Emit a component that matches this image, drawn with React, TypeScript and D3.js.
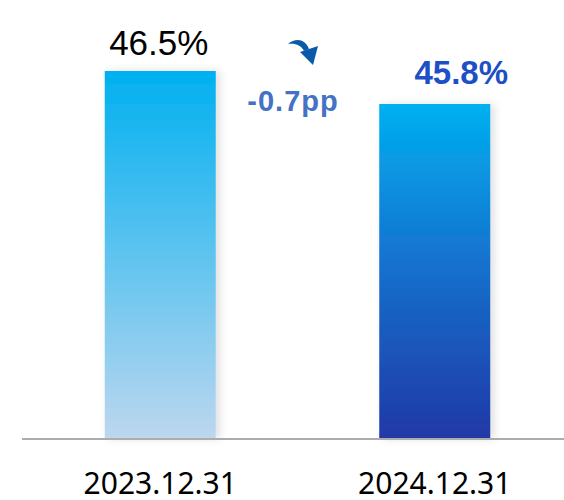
import React from "react";
import * as d3 from "d3";

const categories = ["2023.12.31", "2024.12.31"];
const values = [46.5, 45.8];
const valueLabels = ["46.5%", "45.8%"];
const changeLabel = "-0.7pp";

const W = 564;
const H = 500;
const baseY = 439;

export default function App() {
  const x = d3.scalePoint<string>().domain(categories).range([23, 572]).padding(0.5);
  const y = d3.scaleLinear().domain([38.69, 46.5]).range([baseY, 71]);
  const barW = 111;

  const x0 = x(categories[0])!;
  const x1 = x(categories[1])!;

  return (
    <svg width={W} height={H} style={{ position: "absolute", left: 0, top: 0 }}>
      <defs>
        <linearGradient id="g1" x1="0" y1="0" x2="0" y2="1">
          <stop offset="0%" stopColor="#00b0f0" />
          <stop offset="100%" stopColor="#bdd7ee" />
        </linearGradient>
        <linearGradient id="g2" x1="0" y1="0" x2="0" y2="1">
          <stop offset="0%" stopColor="#00b0f0" />
          <stop offset="45%" stopColor="#1474d0" />
          <stop offset="100%" stopColor="#2138a6" />
        </linearGradient>
        <filter id="sh" x="-20%" y="-20%" width="150%" height="140%">
          <feDropShadow dx="4" dy="0" stdDeviation="4" floodColor="#000" floodOpacity="0.12" />
        </filter>
      </defs>
      {values.map((v, i) => (
        <rect
          key={i}
          x={x(categories[i])! - barW / 2}
          y={y(v)}
          width={barW}
          height={baseY - y(v)}
          fill={i === 0 ? "url(#g1)" : "url(#g2)"}
          filter="url(#sh)"
        />
      ))}
      <line x1={22} x2={564} y1={baseY} y2={baseY} stroke="#acacac" strokeWidth={2} />
      {categories.map((c) => (
        <text
          key={c}
          x={x(c)!}
          y={494}
          textAnchor="middle"
          fontFamily="'Noto Sans', sans-serif"
          fontSize={30}
          fill="#000"
        >
          {c}
        </text>
      ))}
      <text
        x={x0 - 1.5}
        y={y(values[0]) - 16}
        textAnchor="middle"
        fontFamily="'Liberation Sans', Arial, sans-serif"
        fontSize={35}
        fill="#000"
      >
        {valueLabels[0]}
      </text>
      <text
        x={x1 + 26.5}
        y={y(values[1]) - 20}
        textAnchor="middle"
        fontFamily="'Liberation Sans', Arial, sans-serif"
        fontWeight="bold"
        fontSize={33}
        fill="#1d4fc6"
      >
        {valueLabels[1]}
      </text>
      <text
        x={(x0 + x1) / 2 - 4.5}
        y={111}
        textAnchor="middle"
        fontFamily="'Liberation Sans', Arial, sans-serif"
        fontWeight="bold"
        fontSize={29}
        letterSpacing={1}
        fill="#4472c4"
      >
        {changeLabel}
      </text>
      <g fill="#0b5aa9">
        <path d="M288,44 C295,38 305,38 309,49 L304,51 C301,45 295,43 288,44 Z" />
        <path d="M300,52 L318,46 L313,65 Z" />
      </g>
    </svg>
  );
}
